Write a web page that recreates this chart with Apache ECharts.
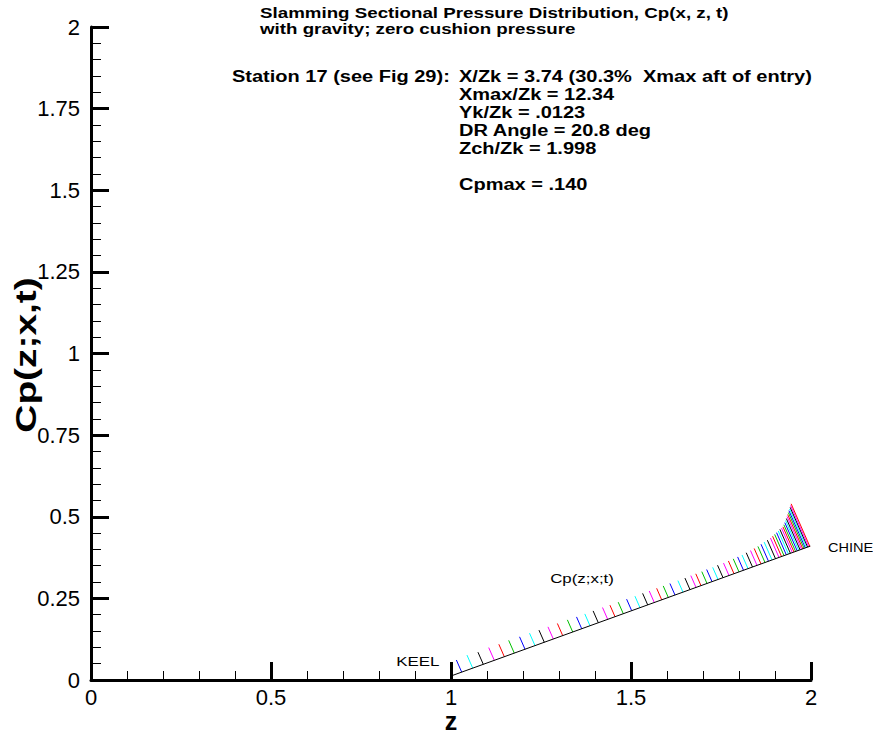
<!DOCTYPE html>
<html>
<head>
<meta charset="utf-8">
<script src="https://cdn.jsdelivr.net/npm/echarts@6/dist/echarts.min.js"></script>
<style>
  html, body { margin: 0; padding: 0; background: #fff; }
  #chart { width: 873px; height: 738px; }
</style>
</head>
<body>
<div id="chart"></div>
<script>
// Axis tick labels
const xTickLabels = ['0', '0.5', '1', '1.5', '2'];
const yTickLabels = ['0', '0.25', '0.5', '0.75', '1', '1.25', '1.5', '1.75', '2'];

// Hull section: keel and chine (z, y)
const hullZ = [1.0, 1.998];
const hullY = [0.0123, 0.410];

// Stations along the hull (z) and pressure coefficient at each
const stationZ = [
  1.0297, 1.0603, 1.0897, 1.1203, 1.1481, 1.1758, 1.2056, 1.2333, 1.2592, 1.2842,
  1.3103, 1.3381, 1.3631, 1.3861, 1.4092, 1.4353, 1.4556, 1.4786, 1.5019, 1.5250,
  1.5464, 1.5647, 1.5853, 1.6036, 1.6222, 1.6444, 1.6639, 1.6806, 1.6944, 1.7111,
  1.7250, 1.7417, 1.7556, 1.7722, 1.7861, 1.8000, 1.8125, 1.8250, 1.8375, 1.8500,
  1.8611, 1.8722, 1.8819, 1.8917, 1.9014, 1.9111, 1.9181, 1.9250, 1.9314, 1.9372,
  1.9428, 1.9481, 1.9528, 1.9572, 1.9617, 1.9658, 1.9697, 1.9736, 1.9772, 1.9808,
  1.9842, 1.9875, 1.9906, 1.9936, 1.9967
];
const stationCp = [
  0.040, 0.043, 0.040, 0.042, 0.041, 0.042, 0.041, 0.041, 0.040, 0.040,
  0.040, 0.040, 0.039, 0.039, 0.039, 0.039, 0.038, 0.038, 0.038, 0.038,
  0.038, 0.038, 0.038, 0.038, 0.038, 0.038, 0.038, 0.039, 0.039, 0.039,
  0.040, 0.040, 0.041, 0.041, 0.042, 0.043, 0.044, 0.045, 0.047, 0.049,
  0.051, 0.053, 0.056, 0.059, 0.061, 0.064, 0.067, 0.070, 0.073, 0.076,
  0.079, 0.081, 0.083, 0.088, 0.093, 0.098, 0.103, 0.108, 0.113, 0.118,
  0.123, 0.127, 0.131, 0.136, 0.140
];

// Vector colours, cycled station by station
const vectorColors = ['#0000ff', '#00ffff', '#000000', '#ff00ff', '#ff0000', '#00c000'];

// Section annotations: [z, y, text, alignment]
const annotations = [
  [0.908, 0.058, 'KEEL', 'center'],
  [2.047, 0.405, 'CHINE', 'left'],
  [1.364, 0.311, 'Cp(z;x;t)', 'center']
];

const FONT = '"Liberation Sans", Arial, Helvetica, sans-serif';
const WIDE = 1.25; // horizontal stretch of the plot lettering

const hullSlope = (hullY[1] - hullY[0]) / (hullZ[1] - hullZ[0]);
const hullAngle = Math.atan(hullSlope);
function hullYAt(z) { return hullY[0] + (z - hullZ[0]) * hullSlope; }

const chart = echarts.init(document.getElementById('chart'), null, { renderer: 'svg' });

function axisLabelFrom(list, step) {
  return function (v) {
    const i = Math.round(v / step);
    return list[i] !== undefined ? list[i] : '';
  };
}

function infoText(x, y, text, size) {
  return {
    type: 'text', x: x, y: y, scaleX: WIDE, scaleY: 1,
    style: { text: text, font: 'bold ' + size + 'px ' + FONT, fill: '#000', verticalAlign: 'middle' }
  };
}

const option = {
  animation: false,
  backgroundColor: '#ffffff',
  grid: { left: 91, right: 62, top: 27, bottom: 58, containLabel: false, outerBoundsMode: 'none' },
  xAxis: {
    type: 'value', min: 0, max: 2, interval: 0.5,
    axisLine: { show: true, onZero: false, lineStyle: { color: '#000', width: 3 } },
    axisTick: { show: true, inside: true, length: 18, lineStyle: { color: '#000', width: 3 } },
    minorTick: { show: true, splitNumber: 5, length: 9, lineStyle: { color: '#000', width: 1 } },
    axisLabel: { margin: 6, fontFamily: FONT, fontSize: 22, lineHeight: 22, color: '#000', formatter: axisLabelFrom(xTickLabels, 0.5) },
    splitLine: { show: false }
  },
  yAxis: {
    type: 'value', min: 0, max: 2, interval: 0.25,
    axisLine: { show: true, onZero: false, lineStyle: { color: '#000', width: 3 } },
    axisTick: { show: true, inside: true, length: 18, lineStyle: { color: '#000', width: 3 } },
    minorTick: { show: true, splitNumber: 5, length: 10, lineStyle: { color: '#000', width: 1 } },
    axisLabel: { margin: 11, fontFamily: FONT, fontSize: 22, color: '#000', formatter: axisLabelFrom(yTickLabels, 0.25) },
    splitLine: { show: false }
  },
  graphic: [
    // horizontal axis title
    {
      type: 'text', x: 451, y: 721,
      style: { text: 'z', font: 'bold 25px ' + FONT, fill: '#000', align: 'center', verticalAlign: 'middle', lineHeight: 24 }
    },
    // vertical axis title
    {
      type: 'text', x: 26, y: 355, rotation: Math.PI / 2, scaleX: 1.34, scaleY: 1,
      style: { text: 'Cp(z;x,t)', font: 'bold 29px ' + FONT, fill: '#000', align: 'center', verticalAlign: 'middle' }
    },
    infoText(260, 13, 'Slamming Sectional Pressure Distribution, Cp(x, z, t)', 15),
    infoText(260, 29, 'with gravity; zero cushion pressure', 15),
    infoText(232, 77, 'Station 17 (see Fig 29):', 16),
    infoText(459, 77, 'X/Zk = 3.74 (30.3%  Xmax aft of entry)', 16),
    infoText(459, 95, 'Xmax/Zk = 12.34', 16),
    infoText(459, 113, 'Yk/Zk = .0123', 16),
    infoText(459, 131, 'DR Angle = 20.8 deg', 16),
    infoText(459, 149, 'Zch/Zk = 1.998', 16),
    infoText(459, 185, 'Cpmax = .140', 16)
  ],
  series: [
    {
      // hull section line from keel to chine
      type: 'line',
      data: hullZ.map((z, i) => [z, hullY[i]]),
      symbol: 'none',
      lineStyle: { color: '#000', width: 1 },
      z: 3
    },
    {
      // pressure vectors drawn normal to the hull
      type: 'custom',
      clip: false,
      data: stationZ.map((z, i) => [z, stationCp[i]]),
      renderItem: function (params, api) {
        const z = api.value(0);
        const cp = api.value(1);
        const yb = hullYAt(z);
        const p0 = api.coord([z, yb]);
        const p1 = api.coord([z - cp * Math.sin(hullAngle), yb + cp * Math.cos(hullAngle)]);
        return {
          type: 'line',
          shape: { x1: p0[0], y1: p0[1], x2: p1[0], y2: p1[1] },
          style: { stroke: vectorColors[params.dataIndex % vectorColors.length], lineWidth: 1 }
        };
      },
      z: 2
    },
    {
      // section annotations
      type: 'custom',
      clip: false,
      dimensions: ['z', 'y', 'text', 'align'],
      data: annotations,
      renderItem: function (params, api) {
        const item = annotations[params.dataIndex];
        const p = api.coord([item[0], item[1]]);
        const isLeft = item[3] === 'left';
        return {
          type: 'text',
          x: p[0], y: p[1], scaleX: isLeft ? 1.12 : 1.3, scaleY: 1,
          style: { text: item[2], font: '13px ' + FONT, fill: '#000', align: item[3], verticalAlign: 'middle' }
        };
      },
      z: 4
    }
  ]
};

chart.setOption(option);
</script>
</body>
</html>
